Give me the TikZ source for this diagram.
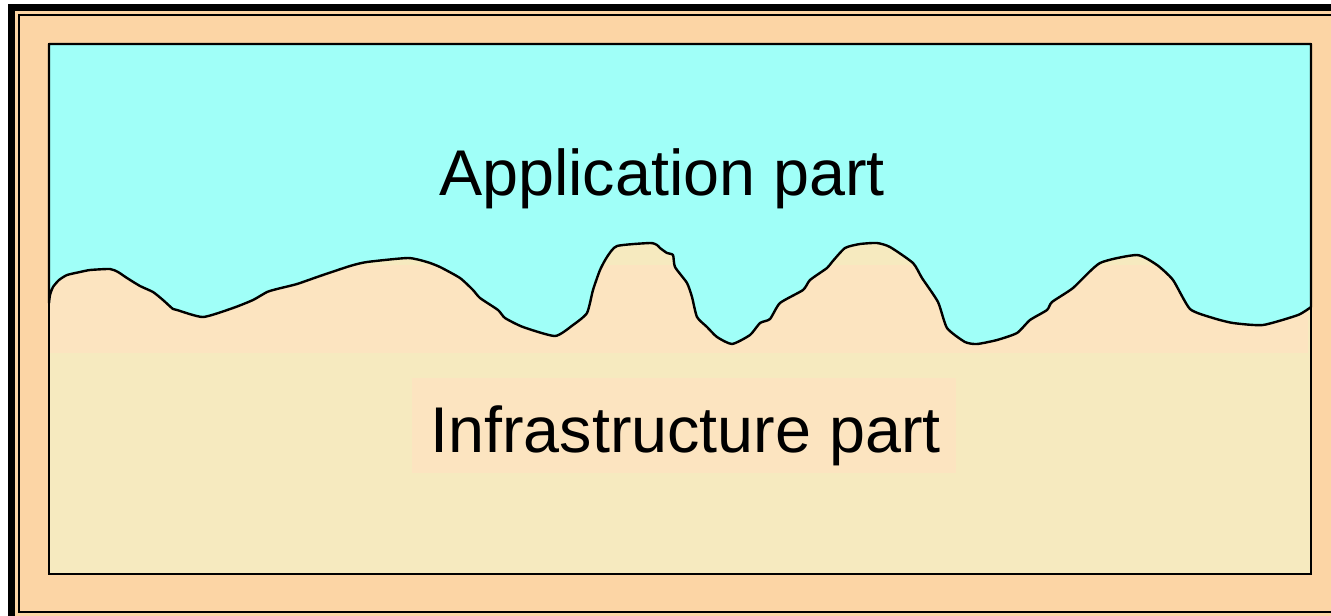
\documentclass[tikz,border=0pt]{standalone}
\usepackage{fontspec}
\setmainfont{Liberation Sans}
\definecolor{framepeach}{HTML}{FCD5A5}
\definecolor{appfill}{HTML}{A0FFF8}
\definecolor{bandfill}{HTML}{FCE4C0}
\definecolor{infrafill}{HTML}{F6EABF}
\tikzset{
  label text/.style={anchor=base, inner sep=0pt, font=\fontsize{48.5}{58}\selectfont},
  border line/.style={draw=black, line width=1.5pt},
  wave line/.style={draw=black, line width=1.8pt, line join=round, line cap=round}
}
\begin{document}
\begin{tikzpicture}[x=0.75pt, y=-0.75pt]
\useasboundingbox (0,0) rectangle (1331,615);
\clip (0,0) rectangle (1331,615);
\fill[white] (0,0) rectangle (1331,615);
% double frame
\fill[framepeach] (8,4) rectangle (1370,640);
\draw[line width=5.25pt] (11.5,7.5) rectangle (1355,619.5);
\draw[line width=1.5pt] (19,15) rectangle (1345,612);
% infrastructure ground and transition band
\fill[infrafill] (49,44) rectangle (1311,574);
\fill[bandfill] (49,265) rectangle (1308,353);
% application layer with its irregular lower edge
\path[fill=appfill, wave line] (49,44) -- (49,303) -- plot[smooth, tension=0.35] coordinates {
 (49,303) (50,295) (53,287) (59,280) (67,275) (80,272) (90,270) (110,269) (118,272)
 (127,278) (140,286) (153,292) (163,300) (173,309) (177,310) (203,317) (233,308)
 (253,300) (267,292) (277,289) (297,284) (320,276) (350,266) (367,262) (408,258)
 (427,262) (440,267) (460,278) (473,290) (480,298) (498,310) (505,318) (523,327)
 (555,336) (573,325) (587,313) (593,290) (600,270) (607,257) (617,246) (650,243)
 (657,245) (660,248) (667,253) (673,255) (675,267) (687,283) (692,297) (697,317)
 (707,327) (717,337) (732,344) (750,335) (760,323) (770,319) (780,303) (803,290)
 (810,280) (827,268) (832,262) (845,248) (860,244) (877,243) (890,247) (913,263)
 (922,278) (938,302) (947,328) (965,342) (977,344) (997,340) (1017,333) (1030,320)
 (1047,310) (1052,302) (1073,288) (1100,263) (1137,255) (1157,265) (1173,280)
 (1190,309) (1213,318) (1233,323) (1263,325) (1298,315) (1311,307)}
 -- (1311,44) -- cycle;
% inner border
\draw[border line] (49,44) rectangle (1311,574);
% labels
\node[fill=bandfill, inner sep=0pt, minimum width=408pt, minimum height=71.25pt] (infrabox) at (684,425.5) {};
\node[label text] (app) at (662,195) {Application part};
\node[label text] (infra) at (685.5,452) {Infrastructure part};
\end{tikzpicture}
\end{document}
